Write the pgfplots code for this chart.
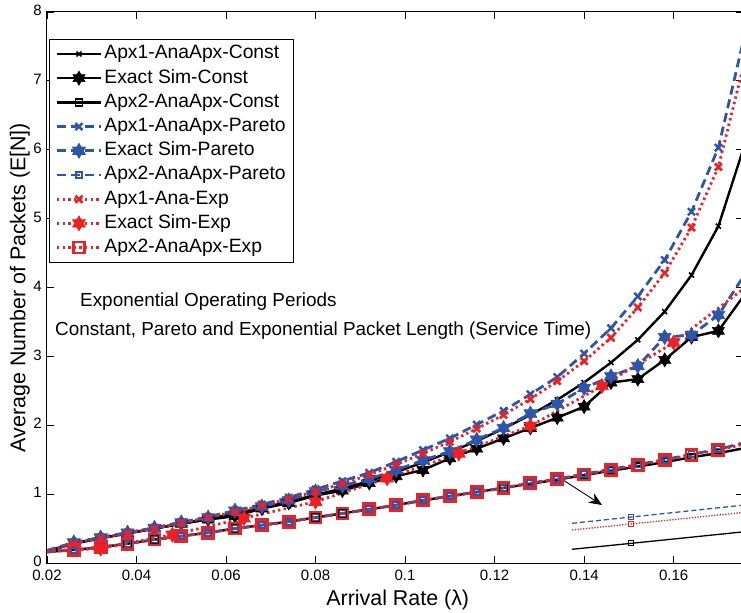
\documentclass[border=0pt]{standalone}
\usepackage{fontspec}
\setmainfont{Liberation Sans}
\usepackage{pgfplots}
\pgfplotsset{compat=1.18}
\usepackage{pgfplotstable}
\usetikzlibrary{arrows.meta}
\definecolor{mblue}{RGB}{45,85,170}
\definecolor{mred}{RGB}{237,32,36}
\newcommand{\tickfont}{\fontsize{15bp}{18bp}\selectfont}
\newcommand{\labfont}{\fontsize{21.4bp}{25bp}\selectfont}
\newcommand{\legfont}{\fontsize{19.3bp}{23bp}\selectfont}
\newcommand{\annfont}{\fontsize{18.9bp}{23bp}\selectfont}
\pgfdeclareplotmark{hexstar}{%
  \pgfpathmoveto{\pgfpointpolar{90}{\pgfplotmarksize}}%
  \pgfpathlineto{\pgfpointpolar{210}{\pgfplotmarksize}}%
  \pgfpathlineto{\pgfpointpolar{330}{\pgfplotmarksize}}%
  \pgfpathclose
  \pgfpathmoveto{\pgfpointpolar{270}{\pgfplotmarksize}}%
  \pgfpathlineto{\pgfpointpolar{390}{\pgfplotmarksize}}%
  \pgfpathlineto{\pgfpointpolar{510}{\pgfplotmarksize}}%
  \pgfpathclose
  \pgfusepathqfillstroke}

\pgfplotstableread{
x     a1c  esc  a2c   a1p  esp  a2p  a1e  a2e
0.020 0.17 0.17 0.16  0.18 0.18 0.16 0.17 0.16
0.026 0.28 0.29 0.19  0.29 0.30 0.19 0.28 0.19
0.032 0.36 0.36 0.23  0.37 0.37 0.23 0.36 0.23
0.038 0.43 0.43 0.28  0.44 0.44 0.28 0.43 0.28
0.044 0.50 0.50 0.34  0.51 0.51 0.34 0.50 0.34
0.050 0.57 0.57 0.39  0.59 0.59 0.39 0.58 0.39
0.056 0.64 0.63 0.44  0.67 0.66 0.44 0.66 0.44
0.062 0.72 0.68 0.50  0.76 0.76 0.50 0.74 0.50
0.068 0.80 0.79 0.55  0.85 0.82 0.55 0.83 0.55
0.074 0.89 0.87 0.60  0.95 0.91 0.60 0.93 0.60
0.080 0.99 0.98 0.66  1.07 1.04 0.66 1.04 0.66
0.086 1.08 1.05 0.72  1.19 1.12 0.72 1.15 0.72
0.092 1.19 1.16 0.78  1.31 1.22 0.78 1.28 0.78
0.098 1.32 1.26 0.84  1.47 1.35 0.84 1.43 0.84
0.104 1.46 1.35 0.91  1.64 1.49 0.91 1.59 0.91
0.110 1.61 1.52 0.97  1.81 1.62 0.97 1.76 0.97
0.116 1.77 1.66 1.03  2.01 1.79 1.03 1.95 1.03
0.122 1.95 1.81 1.09  2.21 1.96 1.09 2.15 1.09
0.128 2.15 1.96 1.15  2.45 2.17 1.16 2.38 1.16
0.134 2.37 2.11 1.21  2.70 2.31 1.22 2.64 1.22
0.140 2.62 2.27 1.275 3.04 2.54 1.29 2.93 1.285
0.146 2.91 2.62 1.34  3.41 2.71 1.36 3.27 1.355
0.152 3.24 2.67 1.40  3.87 2.86 1.43 3.71 1.425
0.158 3.65 2.95 1.465 4.40 3.28 1.50 4.21 1.495
0.164 4.18 3.28 1.535 5.10 3.31 1.58 4.87 1.57
0.170 4.89 3.37 1.595 6.03 3.60 1.65 5.75 1.64
0.176 6.10 3.91 1.67  7.70 4.20 1.75 7.32 1.73
}\maindata

\pgfplotstableread{
x     ese
0.020 0.17
0.032 0.21
0.048 0.41
0.064 0.65
0.080 0.89
0.096 1.23
0.112 1.59
0.128 1.99
0.144 2.57
0.160 3.20
0.176 4.00
}\expexact

\pgfplotstableread{
x     bl   rd   bk
0.000 3.67 3.00 1.07
0.347 4.29 3.60 1.66
1.000 5.46 4.73 2.79
}\insetdata

\begin{document}
\begin{tikzpicture}
\begin{axis}[
  name=main,
  scale only axis,
  width=696bp, height=551bp,
  xmin=0.02, xmax=0.1755,
  ymin=0, ymax=8,
  xtick={0.02,0.04,0.06,0.08,0.1,0.12,0.14,0.16},
  xticklabels={0.02,0.04,0.06,0.08,0.1,0.12,0.14,0.16},
  ytick={0,1,2,3,4,5,6,7,8},
  /pgf/number format/assume math mode=true,
  tick label style={font=\tickfont},
  xticklabel style={yshift=-6.5bp, inner sep=0pt},
  yticklabel style={xshift=-5bp, yshift=1.5bp, inner sep=0pt},
  tick align=inside,
  major tick length=7bp,
  tick style={black, line width=0.8bp},
  axis line style={line width=1bp},
  xlabel={Arrival Rate (λ)},
  ylabel={Average Number of Packets (E[N])},
  xlabel style={font=\labfont, at={(axis description cs:0.504,-0.067)}, anchor=center},
  ylabel style={font=\labfont, at={(axis description cs:-0.039,0.5)}, anchor=center},
  legend cell align=left,
  legend style={at={(0.003,0.951)}, anchor=north west, draw=black, line width=1bp,
    fill=white, font=\legfont, inner xsep=6bp, inner ysep=3.5bp, row sep=2.2bp,
    nodes={inner sep=2bp, text height=14bp, text depth=4bp}},
  legend image code/.code={\draw[mark repeat=2,mark phase=2] plot coordinates {(0bp,0bp) (22bp,0bp) (44bp,0bp)};},
]
% Const
\addplot[black, line width=2.4bp, mark=x, mark size=3.5bp, mark phase=2,
  mark options={solid, line width=1.6bp}] table[x=x,y=a1c] {\maindata};
\addlegendentry{Apx1-AnaApx-Const}
\addplot[black, line width=2.4bp, mark=hexstar, mark size=7bp, mark phase=2,
  mark options={solid, fill=black, line width=0.6bp}] table[x=x,y=esc] {\maindata};
\addlegendentry{Exact Sim-Const}
\addplot[black, line width=2.4bp, mark=square, mark size=3.5bp, mark phase=2,
  mark options={solid, line width=1.5bp}] table[x=x,y=a2c] {\maindata};
\addlegendentry{Apx2-AnaApx-Const}
% Pareto
\addplot[mblue, line width=2.8bp, dash pattern=on 9bp off 5bp, mark=x, mark size=5bp, mark phase=2,
  mark options={solid, line width=2.4bp}] table[x=x,y=a1p] {\maindata};
\addlegendentry{Apx1-AnaApx-Pareto}
\addplot[mblue, line width=2.8bp, dash pattern=on 9bp off 5bp, mark=hexstar, mark size=7.5bp, mark phase=2,
  mark options={solid, fill=mblue, line width=0.6bp}] table[x=x,y=esp] {\maindata};
\addlegendentry{Exact Sim-Pareto}
\addplot[mblue, line width=2.8bp, dash pattern=on 9bp off 5bp, mark=square, mark size=3bp, mark phase=2,
  mark options={solid, line width=1.8bp}] table[x=x,y=a2p] {\maindata};
\addlegendentry{Apx2-AnaApx-Pareto}
% Exp
\addplot[mred, line width=2.8bp, dash pattern=on 2.4bp off 3.2bp, mark=x, mark size=5bp, mark phase=2,
  mark options={solid, line width=2.6bp}] table[x=x,y=a1e] {\maindata};
\addlegendentry{Apx1-Ana-Exp}
\addplot[mred, line width=2.8bp, dash pattern=on 2.4bp off 3.2bp, mark=hexstar, mark size=7.5bp, mark phase=2,
  mark options={solid, fill=mred, line width=0.6bp}] table[x=x,y=ese] {\expexact};
\addlegendentry{Exact Sim-Exp}
\addplot[mred, line width=2.8bp, dash pattern=on 2.4bp off 3.2bp, mark=square, mark size=5.5bp, mark phase=2,
  mark options={solid, line width=2.8bp}] table[x=x,y=a2e] {\maindata};
\addlegendentry{Apx2-AnaApx-Exp}

\node[anchor=west, font=\annfont, inner sep=0pt] at (axis cs:0.02737,3.79) {Exponential Operating Periods};
\node[anchor=west, font=\annfont, inner sep=0pt] at (axis cs:0.02179,3.38) {Constant, Pareto and Exponential Packet Length (Service Time)};
\draw[-{Stealth[length=13bp,width=11bp]}, line width=0.9bp] (axis cs:0.1346,1.234) -- (axis cs:0.1440,0.842);
\end{axis}

\begin{axis}[
  at={(main.south west)}, anchor=south west, xshift=525bp, yshift=3bp,
  scale only axis, width=169bp, height=60bp,
  xmin=0, xmax=1, ymin=0, ymax=6,
  hide axis, clip=false,
]
\addplot[mblue, line width=1.3bp, dash pattern=on 5bp off 3bp, mark=square, mark size=2.5bp,
  mark indices={2}, mark options={solid, line width=1bp}] table[x=x,y=bl] {\insetdata};
\addplot[mred, line width=1.3bp, dash pattern=on 1.3bp off 1.5bp, mark=square, mark size=2.5bp,
  mark indices={2}, mark options={solid, line width=1bp}] table[x=x,y=rd] {\insetdata};
\addplot[black, line width=1.3bp, mark=square, mark size=2.5bp,
  mark indices={2}, mark options={solid, line width=1bp}] table[x=x,y=bk] {\insetdata};
\end{axis}

\pgfresetboundingbox
\useasboundingbox ([xshift=-47bp,yshift=-50bp]main.south west) rectangle ([xshift=694bp,yshift=563bp]main.south west);
\end{tikzpicture}
\end{document}
